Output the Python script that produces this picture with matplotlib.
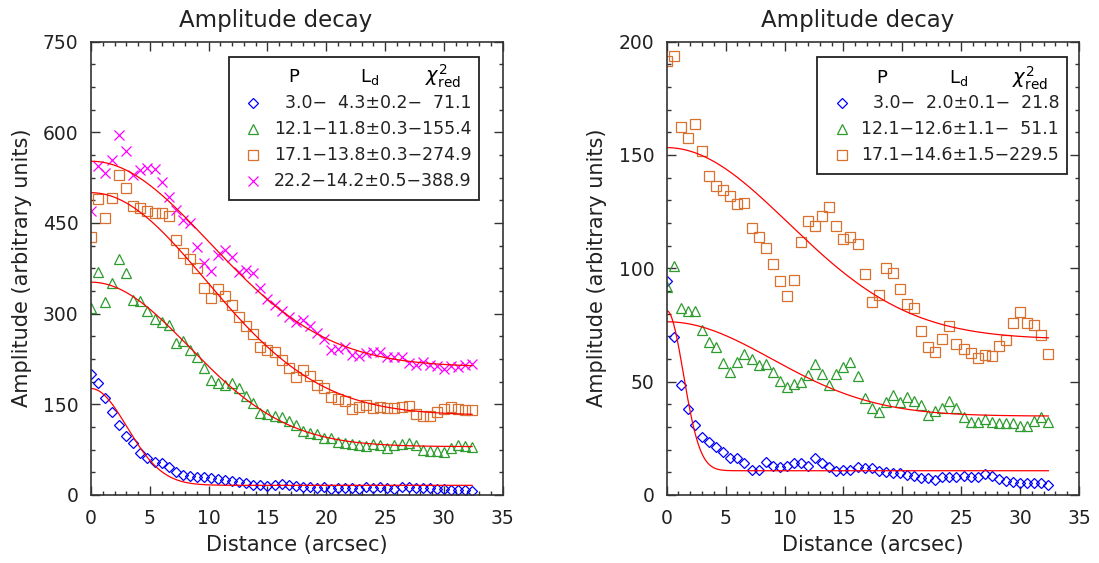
import numpy as np
import matplotlib
matplotlib.use("Agg")
import matplotlib.pyplot as plt
from matplotlib.patches import Rectangle
from matplotlib.ticker import MultipleLocator

# ---------------- data ----------------
distance = np.round(np.arange(0, 32.5, 0.6), 1)  # arcsec, 55 samples

# Left panel
left_p3 = [199.5, 184.6, 161.0, 137.8, 115.2, 98.1, 85.4, 68.9, 60.6, 55.1,
           53.5, 45.7, 38.6, 33.1, 31.4, 30.3, 29.2, 27.6, 25.9, 24.8,
           23.7, 22.1, 20.4, 16.5, 16.5, 14.9, 16.5, 18.0, 16.5, 14.9,
           13.8, 13.8, 11.0, 12.7, 9.4, 11.0, 11.0, 11.0, 9.4, 12.7,
           11.0, 12.7, 11.0, 9.4, 12.7, 13.8, 11.0, 11.0, 11.0, 9.4,
           9.4, 8.3, 8.3, 8.3, 7.2]
left_p12 = [308.7, 369.3, 319.7, 351.2, 390.3, 367.7, 322.5, 320.8, 304.3, 291.0,
            286.7, 281.1, 251.9, 254.7, 239.8, 227.7, 210.6, 190.2, 185.8, 181.9,
            184.7, 176.4, 163.7, 151.6, 135.1, 134.0, 131.2, 128.4, 122.4, 115.8,
            105.8, 103.1, 100.3, 94.8, 93.7, 88.2, 86.5, 84.3, 82.7, 81.6,
            83.8, 82.7, 78.3, 82.7, 83.8, 85.4, 82.7, 74.4, 72.8, 72.8,
            71.7, 77.1, 82.7, 81.0, 80.0]
left_p17 = [427.2, 489.0, 458.6, 490.6, 529.2, 508.2, 477.9, 475.2, 469.7, 465.8,
            465.8, 461.4, 421.7, 399.6, 390.3, 374.8, 342.9, 325.2, 340.1, 329.7,
            314.2, 293.8, 280.0, 265.7, 245.3, 239.8, 235.9, 223.3, 210.6, 195.7,
            206.7, 197.4, 181.9, 177.5, 162.6, 158.2, 155.4, 141.7, 146.1, 148.8,
            143.3, 146.1, 144.4, 143.3, 146.1, 147.7, 134.0, 130.6, 131.2, 137.8,
            141.7, 146.1, 141.7, 140.6, 140.6]
left_p22 = [469.7, 544.1, 531.9, 554.0, 595.0, 569.4, 529.2, 537.5, 540.2, 539.1,
            517.1, 492.3, 471.3, 454.8, 449.3, 410.7, 383.1, 371.0, 396.9, 405.2,
            393.0, 368.2, 372.1, 366.6, 341.8, 323.6, 314.2, 304.3, 294.9, 286.7,
            289.4, 279.5, 268.5, 257.4, 239.8, 240.9, 244.2, 231.5, 229.9, 234.3,
            237.0, 237.0, 228.8, 227.7, 227.7, 218.8, 214.4, 220.5, 215.0, 213.3,
            207.8, 213.3, 212.2, 215.0, 216.6]

# Right panel
right_p3 = [94.5, 69.8, 48.5, 37.8, 30.9, 25.4, 23.2, 21.0, 19.1, 16.2,
            16.5, 14.0, 11.0, 11.0, 14.7, 12.9, 12.5, 12.9, 14.3, 14.0,
            12.9, 16.2, 14.3, 12.5, 10.6, 11.0, 11.0, 12.5, 12.1, 11.8,
            10.7, 10.0, 9.8, 9.8, 8.8, 8.5, 7.6, 7.3, 6.6, 8.1,
            8.1, 8.1, 8.5, 8.1, 8.1, 9.1, 8.4, 6.9, 6.3, 5.9,
            5.4, 5.4, 5.4, 5.1, 4.4]
right_p12 = [91.9, 101.1, 82.6, 81.3, 81.3, 72.8, 67.6, 65.1, 58.1, 54.1,
             58.5, 62.2, 60.0, 57.3, 57.8, 54.1, 50.4, 47.8, 48.8, 49.7,
             52.9, 57.8, 53.2, 48.5, 53.2, 56.6, 58.8, 52.5, 42.6, 38.2,
             36.5, 41.2, 44.1, 41.2, 43.4, 41.5, 39.7, 35.3, 37.2, 38.2,
             41.5, 38.2, 34.5, 32.0, 32.3, 33.5, 32.0, 31.6, 31.6, 31.6,
             30.6, 30.6, 32.6, 34.5, 32.3]
right_p17 = [191.5, 193.6, 162.4, 157.6, 163.5, 151.7, 140.7, 136.3, 134.5, 131.9,
             128.3, 128.6, 117.6, 113.6, 108.8, 101.9, 94.4, 87.8, 94.8, 111.4,
             120.8, 118.8, 123.0, 127.2, 118.6, 112.9, 113.6, 110.6, 97.5, 85.0,
             88.2, 100.0, 98.0, 90.7, 84.2, 82.3, 72.3, 65.1, 62.9, 68.7,
             74.5, 66.6, 64.4, 62.8, 60.6, 61.7, 61.4, 65.9, 68.4, 75.7,
             80.9, 76.0, 75.0, 70.6, 62.0]

# Fit parameters (amplitude above background, decay length L_d, background)
left_fit_amp = [160.0, 272.0, 368.0, 340.0]
left_fit_ld = [4.3, 11.8, 13.8, 14.2]
left_fit_bg = [16.0, 80.0, 132.0, 212.0]
right_fit_amp = [70.6, 41.6, 84.5]
right_fit_ld = [2.0, 12.6, 14.6]
right_fit_bg = [10.7, 34.8, 68.7]

# Legend table entries
left_period = ["3.0", "12.1", "17.1", "22.2"]
left_ld = ["4.3", "11.8", "13.8", "14.2"]
left_err = ["0.2", "0.3", "0.3", "0.5"]
left_chi = ["71.1", "155.4", "274.9", "388.9"]
right_period = ["3.0", "12.1", "17.1"]
right_ld = ["2.0", "12.6", "14.6"]
right_err = ["0.1", "1.1", "1.5"]
right_chi = ["21.8", "51.1", "229.5"]

# ---------------- style ----------------
plt.rcParams['font.family'] = ['DejaVu Sans']
plt.rcParams['mathtext.fontset'] = 'dejavusans'

BLUE = '#0000ff'
GREEN = '#2e9b2e'
ORANGE = '#d9702f'
MAGENTA = '#ff00ff'
RED = '#ff0000'

styles = [
    dict(marker='D', ms=4.6, color=BLUE),
    dict(marker='^', ms=7.0, color=GREEN),
    dict(marker='s', ms=6.8, color=ORANGE),
    dict(marker='x', ms=6.5, color=MAGENTA),
]

W, H = 1099, 563
fig = plt.figure(figsize=(W / 100, H / 100), dpi=100)

def px_axes(x0, x1, ytop, ybot):
    return fig.add_axes([x0 / W, 1 - ybot / H, (x1 - x0) / W, (ybot - ytop) / H])

axL = px_axes(91, 502.7, 41.5, 495)
axR = px_axes(666.7, 1079, 41.5, 495)

xfit = np.linspace(0, distance[-1], 400)

def fit_curve(amp, ld, bg):
    return amp * np.exp(-(xfit / ld) ** 2) + bg

def style_axis(ax, ymax, ymajor, yminor):
    ax.set_xlim(0, 35)
    ax.set_ylim(0, ymax)
    ax.xaxis.set_major_locator(MultipleLocator(5))
    ax.xaxis.set_minor_locator(MultipleLocator(1))
    ax.yaxis.set_major_locator(MultipleLocator(ymajor))
    ax.yaxis.set_minor_locator(MultipleLocator(yminor))
    ax.tick_params(which='both', direction='in', top=True, right=True,
                   width=1.0, colors='#333333', labelcolor='#222222')
    ax.tick_params(which='major', length=6.5)
    ax.tick_params(which='minor', length=3.2)
    ax.tick_params(axis='x', labelsize=13.5, pad=10)
    ax.tick_params(axis='y', labelsize=13.5, pad=9)
    for s in ax.spines.values():
        s.set_linewidth(1.2)
        s.set_color('#333333')

def draw_panel(ax, series, amps, lds, bgs):
    for vals, st in zip(series, styles):
        ax.plot(distance, vals, linestyle='none', marker=st['marker'],
                ms=st['ms'], mfc='none', mec=st['color'], mew=0.9)
    for a, l, b in zip(amps, lds, bgs):
        ax.plot(xfit, fit_curve(a, l, b), color=RED, lw=0.9)

draw_panel(axL, [left_p3, left_p12, left_p17, left_p22],
           left_fit_amp, left_fit_ld, left_fit_bg)
draw_panel(axR, [right_p3, right_p12, right_p17],
           right_fit_amp, right_fit_ld, right_fit_bg)
style_axis(axL, 750, 150, 37.5)
style_axis(axR, 200, 50, 10)

def row_text(p, l, e, c):
    fs = '\u2007'
    return (p.rjust(4, fs) + '\u2212' + l.rjust(4, fs) + '\u00b1' + e +
            '\u2212' + c.rjust(5, fs))

def legend(ax, box, hdr, sym_x, text_x, rows_y, periods, lds, errs, chis):
    x0, x1, ytop, ybot = box
    ax.add_patch(Rectangle((x0, ybot), x1 - x0, ytop - ybot, transform=ax.transAxes,
                           fill=True, facecolor='white', edgecolor='#222222',
                           lw=1.3, zorder=5))
    hy = hdr[3]
    ax.text(hdr[0], hy, 'P', transform=ax.transAxes, ha='center', va='center',
            fontsize=13, zorder=6)
    ax.text(hdr[1], hy, r'L$_\mathregular{d}$', transform=ax.transAxes,
            ha='center', va='center', fontsize=13, zorder=6)
    ax.text(hdr[2], hy, r'$\chi^2_{\mathregular{red}}$', transform=ax.transAxes,
            ha='center', va='center', fontsize=14, zorder=6)
    for i, ry in enumerate(rows_y):
        st = styles[i]
        ax.plot([sym_x], [ry], transform=ax.transAxes, linestyle='none',
                marker=st['marker'], ms=st['ms'] * 1.1, mfc='none',
                mec=st['color'], mew=0.9, zorder=6, clip_on=False)
        ax.text(text_x, ry, row_text(periods[i], lds[i], errs[i], chis[i]),
                transform=ax.transAxes, ha='right', va='center',
                fontsize=12.5, zorder=6, color='#222222')

legend(axL, (0.3364, 0.9432, 0.9652, 0.6505),
       (0.4931, 0.6777, 0.855, 0.9224), 0.3934, 0.925,
       [0.8637, 0.8071, 0.7497, 0.6924],
       left_period, left_ld, left_err, left_chi)
legend(axR, (0.3653, 0.9702, 0.9665, 0.7072),
       (0.5208, 0.7073, 0.88, 0.9188), 0.4246, 0.952,
       [0.8637, 0.8064, 0.7497],
       right_period, right_ld, right_err, right_chi)

# titles and axis labels
for xc in (275.8, 858.0):
    fig.text(xc / W, 1 - 20 / H, 'Amplitude decay', ha='center', va='center',
             fontsize=16.5, color='#222222')
for xc in (296.9, 872.8):
    fig.text(xc / W, 1 - 545 / H, 'Distance (arcsec)', ha='center',
             va='center', fontsize=15, color='#222222')
for xc in (22, 597):
    fig.text(xc / W, 1 - 268 / H, 'Amplitude (arbitrary units)', ha='center',
             va='center', rotation=90, fontsize=15, color='#222222')

fig.savefig('out.png', dpi=100)
